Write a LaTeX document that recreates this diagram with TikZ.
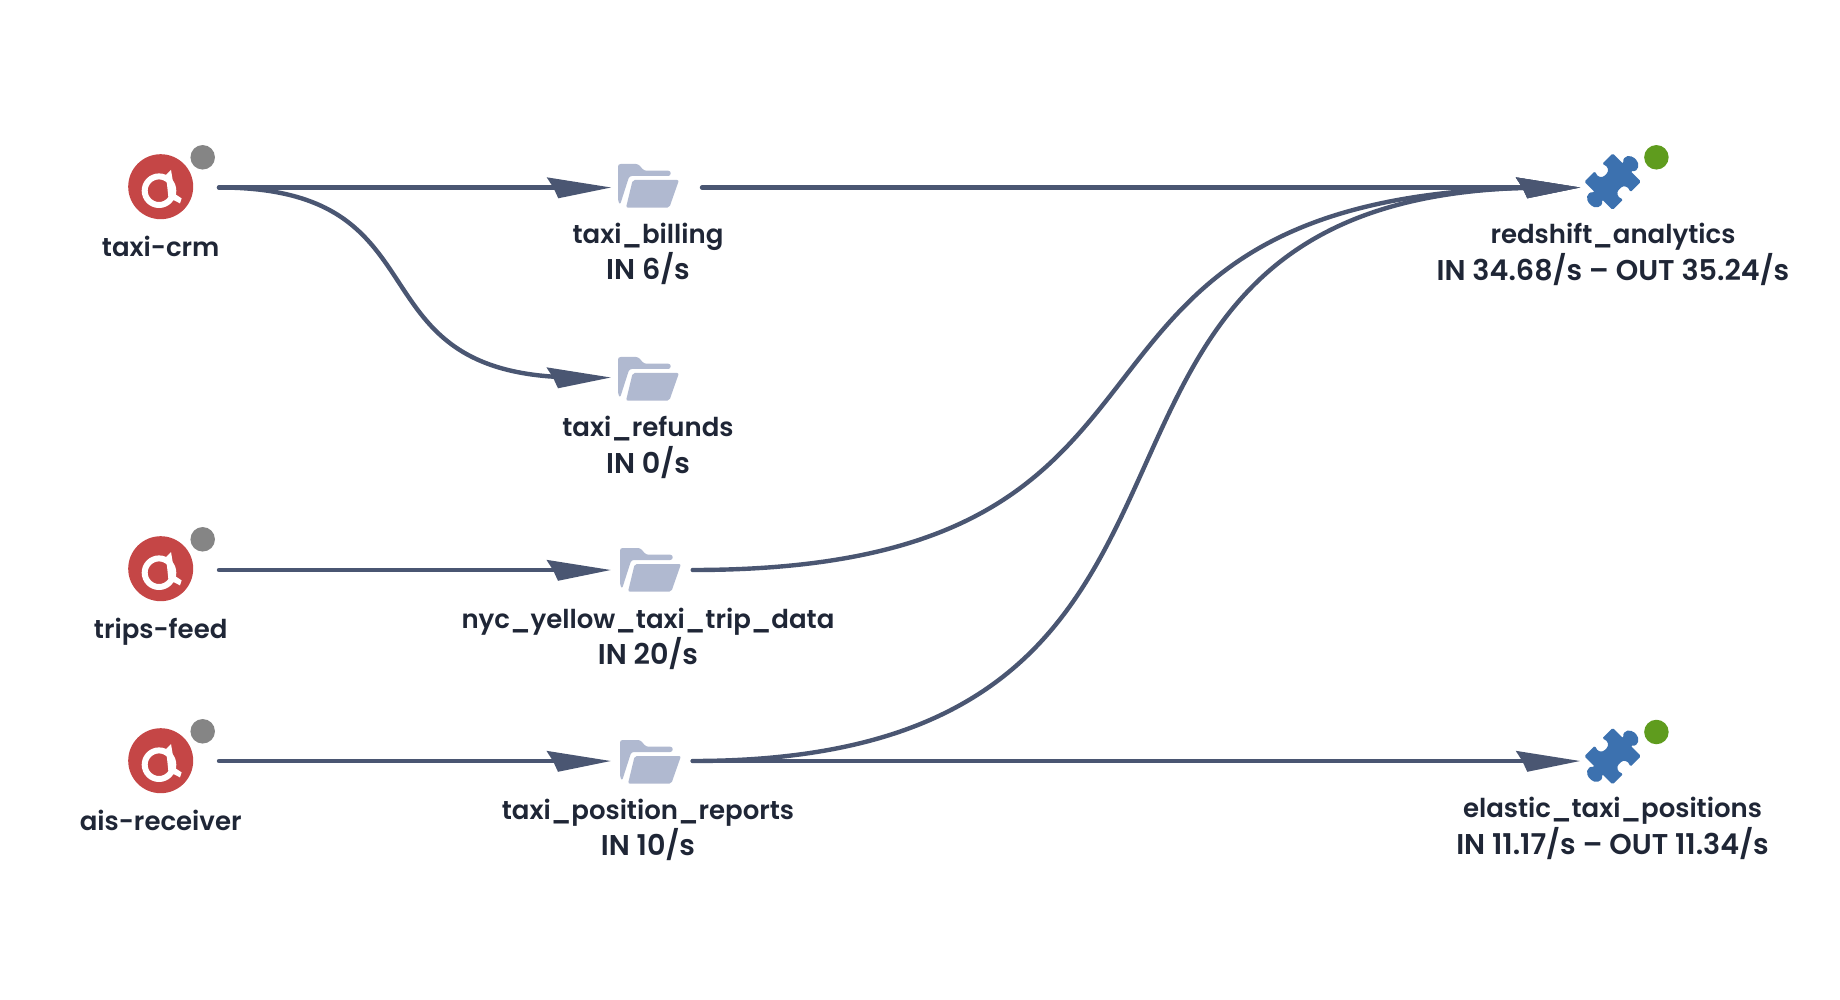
\documentclass[tikz,border=0pt]{standalone}
\usepackage{fontspec}
\setmainfont{Poppins}[UprightFont=* SemiBold]
\usetikzlibrary{arrows.meta, positioning}

\definecolor{flowblue}{HTML}{4A5672}
\definecolor{inktext}{HTML}{1F2636}
\definecolor{sourcered}{HTML}{C54646}
\definecolor{idlegray}{HTML}{858585}
\definecolor{folderblue}{HTML}{B0B9D0}
\definecolor{puzzleblue}{HTML}{3C71AF}
\definecolor{runninggreen}{HTML}{5F9C1E}

% skewed kite head of the flow edges, tip at the path end
\pgfdeclarearrow{
  name = FlowKite,
  setup code = {
    \pgfarrowssettipend{0pt}
    \pgfarrowssetlineend{-25pt}
    \pgfarrowssetbackend{-64.3pt}
    \pgfarrowssetvisualbackend{-50pt}
    \pgfarrowshullpoint{0pt}{0pt}
    \pgfarrowshullpoint{-64.3pt}{10.2pt}
    \pgfarrowshullpoint{-52.7pt}{-10.8pt}
  },
  drawing code = {
    \pgfpathmoveto{\pgfpointorigin}
    \pgfpathlineto{\pgfpoint{-64.3pt}{10.2pt}}
    \pgfpathlineto{\pgfpoint{-57.7pt}{0pt}}
    \pgfpathlineto{\pgfpoint{-52.7pt}{-10.8pt}}
    \pgfpathclose
    \pgfusepathqfill
  },
}

\tikzset{
  port/.style={inner sep=0pt, outer sep=0pt, minimum height=2pt},
  flow/.style={draw=flowblue, line width=4.4pt, line cap=round, -{FlowKite}},
  nametext/.style={anchor=base, text=inktext, font=\fontsize{26}{30}\selectfont, inner sep=0pt},
  ratetext/.style={nametext, font=\fontsize{28.6}{30}\selectfont},
  statusdot/.style={circle, fill=#1, minimum size=24.5pt, inner sep=0pt},
  sourcelogo/.pic={
    \fill[sourcered] (0,0) circle (32.5);
    \draw[white, line width=6pt] (-1.7,4) circle (14.3);
    \fill[white] (5.3,-11.7) -- (10.3,-16.7) -- (14.3,7.3) -- (21,11.7) -- (19.3,16.7) -- (7.7,10.7) -- cycle;
  },
  foldericon/.pic={
    \fill[folderblue, rounded corners=2.5pt] (-30.5,-22) -- (-10.2,-22) -- (-4.5,-15.3) -- (22.2,-15.3) -- (22.2,-10)
      -- (-19.2,-10) -- (-28.5,19) -- (-30.5,14.7) -- cycle;
    \fill[folderblue, rounded corners=2pt] (-15.8,-6) -- (30.5,-6) -- (20.8,21.7) -- (-22.5,21.7) -- cycle;
  },
  puzzleicon/.pic={
    \fill[puzzleblue, rotate=-45, rounded corners=1.5pt] (-20,-20) -- (-5,-20)
      .. controls (-12,-26) and (-6,-32) .. (0,-32) .. controls (6,-32) and (12,-26) .. (5,-20) -- (20,-20) -- (20,-5)
      .. controls (14,-8) and (10,-5) .. (10,0) .. controls (10,5) and (14,8) .. (20,5) -- (20,20) -- (5,20)
      .. controls (12,26) and (6,32) .. (0,32) .. controls (-6,32) and (-12,26) .. (-5,20) -- (-20,20) -- (-20,5)
      .. controls (-14,8) and (-10,5) .. (-10,0) .. controls (-10,-5) and (-14,-8) .. (-20,-5) -- cycle;
  },
}

\begin{document}
\begin{tikzpicture}[x=1pt, y=-1pt]
    \useasboundingbox (0,0) rectangle (1840,1000);

    % Sources
    \foreach \src/\lbl/\ypos/\ytext in {crm/taxi-crm/186.7/256.5, feed/trips-feed/568.7/638, ais/ais-receiver/760.7/830.5} {
        \pic at (160.7,\ypos) {sourcelogo};
        \node[statusdot=idlegray] (\src dot) at (202.7,\ypos-29.4) {};
        \node[nametext] (\src name) at (160.7,\ytext) {\lbl};
    }
    \node[port, minimum width=116.6pt] (crm) at (160.7,187.5) {};
    \node[port, minimum width=116.6pt] (feed) at (160.7,570) {};
    \node[port, minimum width=116.6pt] (ais) at (160.7,761) {};

    % Topics
    \pic at (648.5,186) {foldericon};
    \pic at (648.5,379) {foldericon};
    \pic at (650.5,570) {foldericon};
    \pic at (650.5,762) {foldericon};
    \node[port, minimum width=91pt] (billing) at (656.5,187.5) {};
    \node[port, minimum width=82pt] (refunds) at (651.7,377.5) {};
    \node[port, minimum width=82pt] (yellow) at (651.7,570) {};
    \node[port, minimum width=82pt] (position) at (651.7,761) {};
    \node[nametext] (billingname) at (648,243.5) {taxi\_billing};
    \node[ratetext] (billingrate) at (648,280) {IN 6/s};
    \node[nametext] (refundsname) at (648,436.5) {taxi\_refunds};
    \node[ratetext] (refundsrate) at (648,473.5) {IN 0/s};
    \node[nametext] (yellowname) at (648,628.5) {nyc\_yellow\_taxi\_trip\_data};
    \node[ratetext] (yellowrate) at (648,664.5) {IN 20/s};
    \node[nametext] (positionname) at (648,819) {taxi\_position\_reports};
    \node[ratetext] (positionrate) at (648,855.5) {IN 10/s};

    % Sinks
    \pic at (1612.7,181.7) {puzzleicon};
    \pic at (1612.7,756.2) {puzzleicon};
    \node[statusdot=runninggreen] (redshiftdot) at (1656.4,157.3) {};
    \node[statusdot=runninggreen] (elasticdot) at (1656.4,732) {};
    \node[port, minimum width=65pt] (redshift) at (1612.5,187.5) {};
    \node[port, minimum width=65pt] (elastic) at (1612.5,761) {};
    \node[nametext] (redshiftname) at (1613,243.5) {redshift\_analytics};
    \node[ratetext] (redshiftrate) at (1613,280.5) {IN 34.68/s – OUT 35.24/s};
    \node[nametext] (elasticname) at (1612.5,817.5) {elastic\_taxi\_positions};
    \node[ratetext] (elasticrate) at (1612.5,854.5) {IN 11.17/s – OUT 11.34/s};

    % Flows
    \draw[flow] (crm.east) -- (billing.west);
    \draw[flow] (crm.east) .. controls +(235,0) and +(-235,0) .. ([xshift=-32pt]refunds.west) -- (refunds.west);
    \draw[flow] (feed.east) -- (yellow.west);
    \draw[flow] (ais.east) -- (position.west);
    \draw[flow] (billing.east) -- (redshift.west);
    \draw[flow] (yellow.east) .. controls +(565,0) and +(-565,0) .. ([xshift=-26pt]redshift.west) -- (redshift.west);
    \draw[flow] (position.east) .. controls +(624,0) and +(-569,0) .. ([xshift=-32pt]redshift.west) -- (redshift.west);
    \draw[flow] (position.east) -- (elastic.west);
\end{tikzpicture}
\end{document}
